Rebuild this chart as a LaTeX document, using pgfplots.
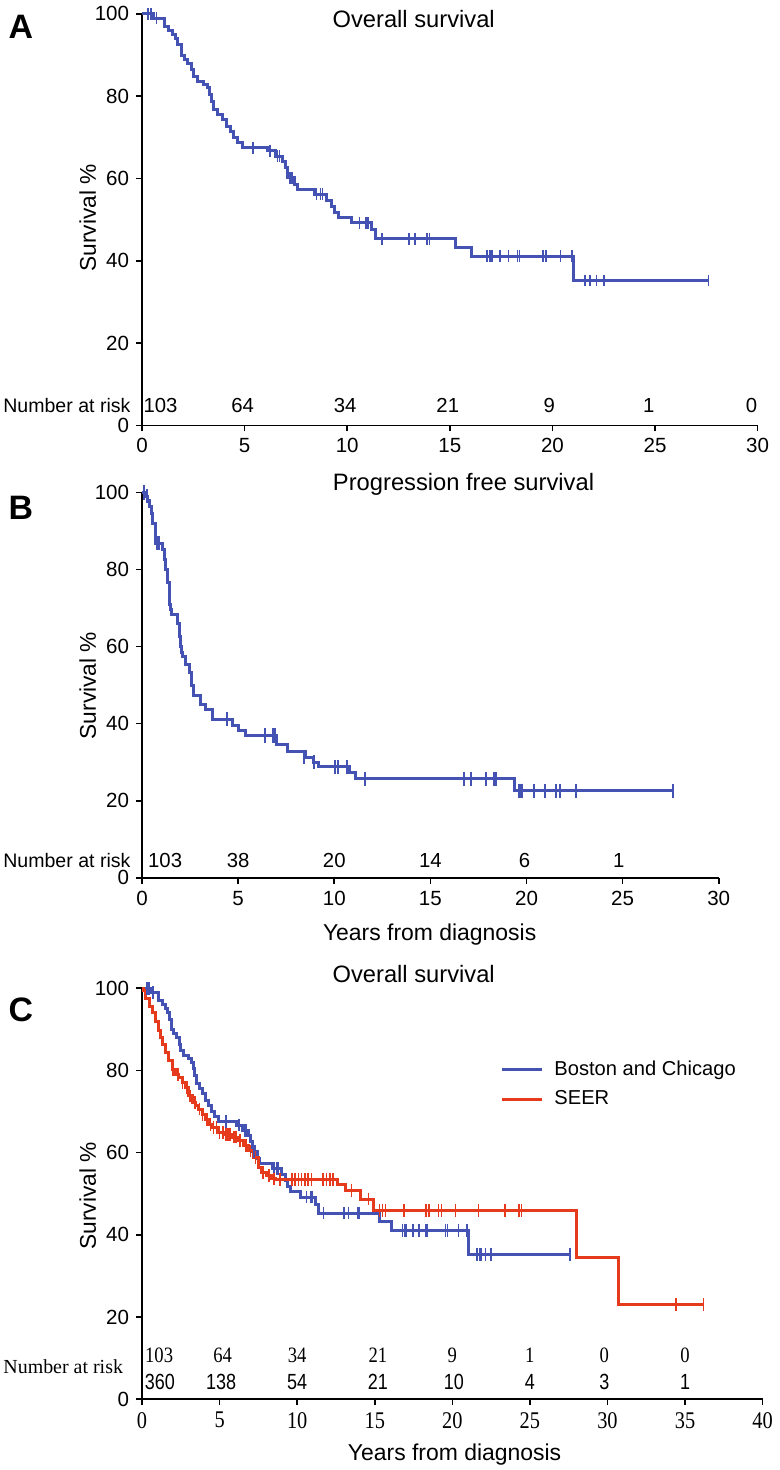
\documentclass[border=0pt]{standalone}
\usepackage{fontspec}
\setmainfont{Liberation Sans}
\newfontfamily\serifn[FakeStretch=0.85]{Liberation Serif}
\newfontfamily\serifr{Liberation Serif}
\newfontfamily\narrowf[FakeStretch=0.82]{Liberation Sans}
\usepackage{pgfplots}
\pgfplotsset{compat=1.18}
\definecolor{kmblue}{RGB}{68,82,180}
\definecolor{kmred}{RGB}{230,58,28}
\pgfplotsset{km/.style={
  scale only axis, axis lines=left,
  axis line style={-, line width=0.8pt, black},
  tick align=outside, major tick length=3pt,
  tick style={line width=0.8pt, black},
  ymin=0, ymax=100, ytick={0,20,40,60,80,100}, xmin=0,
  /pgf/number format/assume math mode=true,
  ticklabel style={font=\fontsize{10.3}{12}\selectfont},
  clip=false,
},
kmline/.style={const plot, line width=1.5pt, #1, mark=none},
kmcens/.style={only marks, mark=|, mark size=3pt, #1, mark options={line width=0.8pt, solid}, forget plot}
}

\pgfplotstableread{
t S
0 100
0.55 99
1.07 97
1.3 96
1.5 95
1.65 94
1.75 92.5
1.9 90
2.05 89
2.2 88
2.4 86.4
2.5 84.8
2.7 83.6
3.0 82.8
3.2 82
3.3 80.4
3.4 78.7
3.5 76.8
3.7 75.5
3.9 74.3
4.1 72.7
4.3 71.5
4.45 70
4.65 68.7
4.9 67.5
6.1 66.7
6.5 65.4
6.85 64.2
7.0 62.7
7.1 60.2
7.45 58.6
7.6 57.4
8.4 56.2
9.0 54.6
9.25 53.3
9.4 51.7
9.55 50.5
10.2 49.2
11.2 47.5
11.4 45.3
15.3 43.3
16.05 41.1
21.05 35.2
27.6 35.2
}\osA

\pgfplotstableread{
t S
0.3 100
0.45 100
0.7 99
5.4 67.5
6.25 66.7
6.6 65.4
6.7 65.4
7.2 60.2
7.3 60.2
8.5 56.2
8.7 56.2
8.8 56.2
10.6 49.2
10.9 49.2
11.0 49.2
11.7 45.3
13.0 45.3
13.3 45.3
13.9 45.3
14.0 45.3
16.8 41.1
16.95 41.1
17.05 41.1
17.45 41.1
17.85 41.1
18.3 41.1
18.4 41.1
19.55 41.1
19.7 41.1
20.4 41.1
20.95 41.1
21.6 35.2
21.8 35.2
21.85 35.2
22.15 35.2
22.5 35.2
27.6 35.2
}\osAc

\pgfplotstableread{
t S
0 100
0.15 99
0.3 98
0.38 96.3
0.47 94.6
0.55 92
0.72 86.8
1.07 85.1
1.15 82.5
1.24 79.9
1.33 76.5
1.41 73
1.45 71
1.5 69.5
1.55 68.3
1.85 66.1
1.93 62.7
2.0 60
2.05 58.5
2.1 57.5
2.28 55.4
2.45 53.2
2.58 49.8
2.7 47.2
3.05 45
3.31 43.7
3.66 41.2
4.7 39.5
5.03 38.2
5.38 36.9
7.0 34.6
7.55 32.8
8.5 31.3
8.9 30
9.2 28.8
10.8 27.4
11.1 25.7
19.4 22.6
27.6 22.6
}\pfsB

\pgfplotstableread{
t S
0.12 100
0.25 99
0.8 86.8
0.9 86.8
4.43 41.2
6.4 36.9
6.8 36.9
6.93 36.9
8.4 31.3
8.45 31.3
8.95 30
10.05 28.8
10.2 28.8
10.64 28.8
11.6 25.7
16.75 25.7
17.1 25.7
17.9 25.7
18.3 25.7
18.4 25.7
19.6 22.6
19.65 22.6
19.7 22.6
19.75 22.6
20.4 22.6
20.95 22.6
21.55 22.6
21.75 22.6
22.55 22.6
27.6 22.6
}\pfsBc

\pgfplotstableread{
t S
0 100
0.1 99.5
0.24 97.6
0.45 95.6
0.66 94
0.88 92
1.09 89.6
1.2 87.9
1.3 86.3
1.52 84.3
1.73 82.3
1.95 80.3
2.16 79
2.37 78.2
2.59 77
2.8 75.8
3.02 73.8
3.23 72.2
3.45 71.4
3.66 70.6
3.87 69.3
4.09 68.1
4.3 66.9
4.51 66.1
4.94 64.9
5.37 64.5
5.8 63.8
6.23 62.9
6.55 61.7
6.87 60.4
7.19 58.8
7.51 56.4
7.72 55.2
8.04 54.4
8.36 53.6
8.6 53.4
12.6 52.2
13.1 50.7
14.1 48.7
14.9 46.0
28.0 34.5
30.7 23.0
36.2 23.0
}\seer

\pgfplotstableread{
t S
2.0 80.3
2.3 79
2.6 77
2.9 75.8
3.1 73.8
3.4 72.2
3.7 70.6
3.9 69.3
4.2 68.1
4.4 66.9
4.6 66.1
4.8 66.1
5.0 64.9
5.2 64.9
5.4 64.5
5.5 64.5
5.6 64.5
5.7 64.5
5.9 63.8
6.0 63.8
6.1 63.8
6.3 62.9
6.7 61.7
7.0 60.4
7.3 58.8
7.8 55.2
8.2 54.4
8.5 53.6
8.9 53.4
9.65 53.4
9.86 53.4
10.08 53.4
10.29 53.4
10.5 53.4
10.7 53.4
10.93 53.4
11.68 53.4
11.9 53.4
12.1 53.4
12.3 53.4
13.5 50.7
14.6 48.7
15.3 46.0
15.5 46.0
15.7 46.0
16.9 46.0
18.3 46.0
18.5 46.0
19.1 46.0
19.3 46.0
20.2 46.0
21.7 46.0
23.4 46.0
24.3 46.0
24.45 46.0
34.4 23.0
36.2 23.0
}\seerc

\begin{document}
\begin{tikzpicture}
\begin{scope}[x=0.5pt,y=-0.5pt]
\useasboundingbox (0,0) rectangle (774,1470);
% panel letters
\node[font=\bfseries\fontsize{17}{20}\selectfont] at (21,22) {A};
\node[font=\bfseries\fontsize{17}{20}\selectfont] at (21,505) {B};
\node[font=\bfseries\fontsize{17}{20}\selectfont] at (21,1008) {C};
% titles
\node[font=\fontsize{11.9}{14}\selectfont] at (415,14) {Overall survival};
\node[font=\fontsize{11.9}{14}\selectfont] at (465,481) {Progression free survival};
\node[font=\fontsize{11.9}{14}\selectfont] at (415,972) {Overall survival};
% y labels
\node[rotate=90,font=\fontsize{11.4}{14}\selectfont] at (88,214) {Survival \%};
\node[rotate=90,font=\fontsize{11.4}{14}\selectfont] at (88,683) {Survival \%};
\node[rotate=90,font=\fontsize{11.4}{14}\selectfont] at (88,1195) {Survival \%};
% x labels
\node[font=\fontsize{11.5}{14}\selectfont] at (431,933) {Years from diagnosis};
\node[font=\fontsize{11.5}{14}\selectfont] at (456,1455) {Years from diagnosis};
% number at risk labels
\node[anchor=west,inner sep=0pt,font=\fontsize{9.8}{12}\selectfont] at (3,401.7) {Number at risk};
\node[anchor=west,inner sep=0pt,font=\fontsize{9.8}{12}\selectfont] at (3,858.3) {Number at risk};
\node[anchor=west,inner sep=0pt,font=\serifr\fontsize{10}{12}\selectfont] at (3,1366) {Number at risk};
\end{scope}

% ---------------- Panel A
\begin{axis}[km, at={(71.25pt,-211pt)}, anchor=south west,
  width=308.75pt, height=206.35pt, xmax=30, xtick={0,5,...,30}]
\addplot[kmline=kmblue] table[x=t,y=S] {\osA};
\addplot[kmcens=kmblue] table[x=t,y=S] {\osAc};
\foreach \xx/\nn in {0.9/103,4.9/64,9.9/34,14.9/21,19.85/9,24.7/1,29.7/0}{
  \edef\tmp{\noexpand\node[font=\noexpand\fontsize{10.2}{12}\noexpand\selectfont] at (axis cs:\xx,4.9) {\nn};}\tmp}
\end{axis}

% ---------------- Panel B
\begin{axis}[km, at={(71.25pt,-438pt)}, anchor=south west,
  width=289.25pt, height=193.35pt, xmax=30, xtick={0,5,...,30}]
\addplot[kmline=kmblue] table[x=t,y=S] {\pfsB};
\addplot[kmcens=kmblue, mark size=3.6pt, mark options={line width=1pt}] table[x=t,y=S] {\pfsBc};
\foreach \xx/\nn in {1.2/103,5/38,10/20,15/14,19.9/6,24.8/1}{
  \edef\tmp{\noexpand\node[font=\noexpand\fontsize{10.2}{12}\noexpand\selectfont] at (axis cs:\xx,4.6) {\nn};}\tmp}
\end{axis}

% ---------------- Panel C
\begin{axis}[km, at={(71.25pt,-699.5pt)}, anchor=south west,
  width=311.25pt, height=206.15pt, xmax=40, xtick={0,5,...,40},
  xticklabel style={font=\serifn\fontsize{12}{14}\selectfont},
  legend style={at={(axis cs:22.7,76.6)}, anchor=west, draw=none, fill=none,
    font=\fontsize{10.1}{12}\selectfont, row sep=2pt,
    nodes={inner xsep=5.5pt}},
  legend cell align=left,
  legend image code/.code={\draw[#1, line width=1.5pt] (0pt,0pt) -- (16.5pt,0pt); \path (0pt,0pt) -- (20pt,0pt);}]
\addplot[kmline=kmblue] table[x=t,y=S] {\osA};
\addlegendentry{Boston and Chicago}
\addplot[kmline=kmred] table[x=t,y=S] {\seer};
\addlegendentry{SEER}
\addplot[kmcens=kmblue, mark size=3.2pt] table[x=t,y=S] {\osAc};
\addplot[kmcens=kmred, mark size=3.2pt] table[x=t,y=S] {\seerc};
\foreach \xx/\nn in {1.1/103,5.2/64,10/34,15.2/21,20/9,25/1,29.8/0,35/0}{
  \edef\tmp{\noexpand\node[font=\noexpand\serifn\noexpand\fontsize{11}{12}\noexpand\selectfont] at (axis cs:\xx,10.6) {\nn};}\tmp}
\foreach \xx/\nn in {1.15/360,5.1/138,10/54,15.2/21,20.1/10,25/4,29.8/3,35/1}{
  \edef\tmp{\noexpand\node[font=\noexpand\narrowf\noexpand\fontsize{11}{12}\noexpand\selectfont] at (axis cs:\xx,4.3) {\nn};}\tmp}
\end{axis}
\end{tikzpicture}
\end{document}
